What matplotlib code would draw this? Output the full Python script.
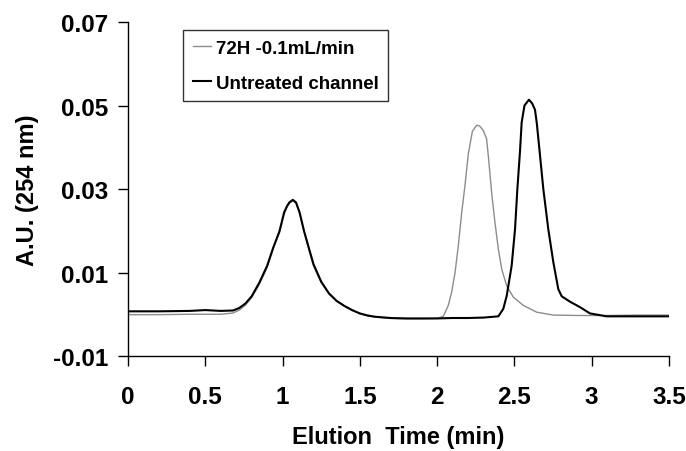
import matplotlib
matplotlib.use('Agg')
import matplotlib.pyplot as plt

plt.rcParams['font.family'] = ['Liberation Sans', 'DejaVu Sans']
plt.rcParams['font.weight'] = 'bold'

# 72H -0.1 mL/min trace (min, A.U.)
t_72h = [0.00, 0.20, 0.40, 0.60, 0.68, 0.72, 0.76, 0.80, 0.85, 0.90, 0.94, 0.98,
         1.01, 1.03, 1.045, 1.065, 1.087, 1.11, 1.14, 1.166, 1.20, 1.25, 1.30, 1.35,
         1.40, 1.45, 1.50, 1.55, 1.60, 1.70, 1.80, 1.90, 2.00, 2.04, 2.072, 2.094,
         2.116, 2.137, 2.159, 2.18, 2.202, 2.228, 2.256, 2.275, 2.299, 2.320, 2.331,
         2.353, 2.374, 2.396, 2.418, 2.45, 2.493, 2.558, 2.644, 2.752, 2.924, 3.10,
         3.30, 3.50]
au_72h = [-0.0001, -0.0001, 0.0000, 0.0000, 0.0003, 0.0010, 0.0022, 0.0040, 0.0072,
          0.0112, 0.0158, 0.0196, 0.0240, 0.0258, 0.0266, 0.0272, 0.0266, 0.0242,
          0.0196, 0.0160, 0.0116, 0.0076, 0.0049, 0.0031, 0.0019, 0.0009, 0.0001,
          -0.0004, -0.0007, -0.0010, -0.0011, -0.0011, -0.0010, -0.0005, 0.0021,
          0.0053, 0.0100, 0.0164, 0.0244, 0.0308, 0.0385, 0.0438, 0.0453, 0.0451,
          0.0440, 0.0420, 0.0380, 0.0290, 0.0220, 0.0156, 0.0108, 0.0068, 0.0041,
          0.0021, 0.0005, -0.0002, -0.0003, -0.0003, -0.0002, -0.0002]

# untreated channel trace (min, A.U.)
t_untr = [0.00, 0.20, 0.40, 0.50, 0.60, 0.68, 0.72, 0.76, 0.80, 0.85, 0.90, 0.94, 0.98,
          1.01, 1.03, 1.044, 1.066, 1.087, 1.11, 1.14, 1.166, 1.20, 1.25, 1.30, 1.35,
          1.40, 1.45, 1.50, 1.55, 1.60, 1.70, 1.80, 1.90, 2.00, 2.10, 2.20, 2.30, 2.396,
          2.428, 2.45, 2.482, 2.504, 2.519, 2.536, 2.547, 2.565, 2.594, 2.615, 2.633,
          2.644, 2.655, 2.687, 2.719, 2.752, 2.784, 2.806, 2.86, 2.924, 2.989, 3.097,
          3.30, 3.50]
au_untr = [0.0007, 0.0007, 0.0008, 0.0010, 0.0008, 0.0009, 0.0015, 0.0026, 0.0043,
           0.0076, 0.0116, 0.0160, 0.0199, 0.0244, 0.0260, 0.0268, 0.0274, 0.0268,
           0.0244, 0.0198, 0.0164, 0.0120, 0.0078, 0.0050, 0.0032, 0.0020, 0.0010,
           0.0002, -0.0003, -0.0006, -0.0009, -0.0010, -0.0010, -0.0010, -0.0009,
           -0.0009, -0.0008, -0.0005, 0.0013, 0.0044, 0.0116, 0.0204, 0.0300, 0.0390,
           0.0460, 0.0500, 0.0514, 0.0505, 0.0490, 0.0460, 0.0420, 0.0300, 0.0204,
           0.0124, 0.0060, 0.0043, 0.0030, 0.0017, 0.0002, -0.0005, -0.0005, -0.0005]

xticks = [0, 0.5, 1, 1.5, 2, 2.5, 3, 3.5]
xticklabels = ['0', '0.5', '1', '1.5', '2', '2.5', '3', '3.5']
yticks = [-0.01, 0.01, 0.03, 0.05, 0.07]
yticklabels = ['-0.01', '0.01', '0.03', '0.05', '0.07']

fig = plt.figure(figsize=(6.86, 4.52), dpi=100)
ax = fig.add_axes([0.1866, 0.2102, 0.7886, 0.7388])

ax.plot(t_72h, au_72h, color='#8c8c8c', lw=1.0, label='72H -0.1mL/min')
ax.plot(t_untr, au_untr, color='black', lw=1.5, label='Untreated channel')

ax.set_xlim(0, 3.5)
ax.set_ylim(-0.01, 0.07)
ax.set_xticks(xticks)
ax.set_xticklabels(xticklabels)
ax.set_yticks(yticks)
ax.set_yticklabels(yticklabels)

for s in ['top', 'right']:
    ax.spines[s].set_visible(False)
for s in ['left', 'bottom']:
    ax.spines[s].set_linewidth(1.0)

ax.tick_params(direction='out', length=7, width=1.0, labelsize=17.5, pad=7)
ax.tick_params(axis='x', pad=14)
for lab in ax.get_xticklabels() + ax.get_yticklabels():
    lab.set_fontweight('bold')

ax.set_xlabel('Elution  Time (min)', fontsize=17, fontweight='bold', labelpad=12)
ax.set_ylabel('A.U. (254 nm)', fontsize=17, fontweight='bold', labelpad=10)

leg = ax.legend(loc='upper left', bbox_to_anchor=(0.102, 0.975), fontsize=13.5,
                frameon=True, fancybox=False, edgecolor='black', handlelength=1.0,
                handletextpad=0.25, borderpad=0.5, labelspacing=0.95, borderaxespad=0)
leg.get_frame().set_linewidth(1.0)
for txt in leg.get_texts():
    txt.set_fontweight('bold')

fig.savefig('out.png', dpi=100)
